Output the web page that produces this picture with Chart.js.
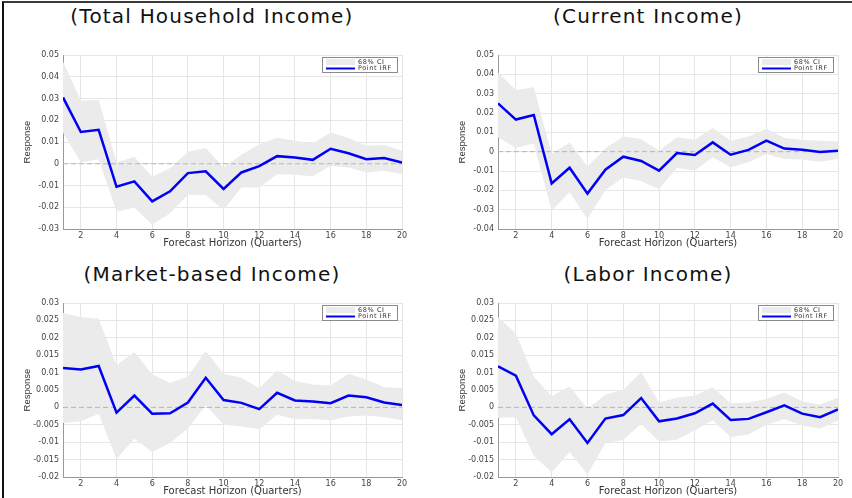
<!DOCTYPE html>
<html>
<head>
<meta charset="utf-8">
<script src="https://cdn.jsdelivr.net/npm/chart.js@4.4.0/dist/chart.umd.min.js"></script>
<style>
  body { margin: 0; background: #fff; width: 852px; height: 498px; overflow: hidden; position: relative; }
  #frame { position: absolute; left: 2px; top: 1px; width: 850px; height: 497px; box-sizing: border-box;
           border-top: 2px solid #3a3a3a; border-left: 2px solid #111; }
  .ttl { position: absolute; width: 400px; text-align: center; font: 20px 'DejaVu Sans'; letter-spacing: 1.2px;
         line-height: 20px; color: #111; white-space: nowrap; }
  canvas { position: absolute; }
</style>
</head>
<body>
<div id="frame"></div>
<div class="ttl" style="left:12px;top:6px">(Total Household Income)</div>
<div class="ttl" style="left:448px;top:6px">(Current Income)</div>
<div class="ttl" style="left:12px;top:264px">(Market-based Income)</div>
<div class="ttl" style="left:448px;top:264px">(Labor Income)</div>

<canvas id="total" width="410" height="205" style="left:5px;top:45px"></canvas>
<canvas id="current" width="410" height="205" style="left:440px;top:45px"></canvas>
<canvas id="market" width="410" height="205" style="left:5px;top:293px"></canvas>
<canvas id="labor" width="410" height="205" style="left:440px;top:293px"></canvas>

<script>
const horizons = [1, 2, 3, 4, 5, 6, 7, 8, 9, 10, 11, 12, 13, 14, 15, 16, 17, 18, 19, 20];
const xTicks = [2, 4, 6, 8, 10, 12, 14, 16, 18, 20];
const legendLabels = ['68% CI', 'Point IRF'];
const xTitle = 'Forecast Horizon (Quarters)';
const yTitle = 'Response';

// y ticks
const yTicksTotal = [-0.03, -0.02, -0.01, 0, 0.01, 0.02, 0.03, 0.04, 0.05];
const yTicksCurrent = [-0.04, -0.03, -0.02, -0.01, 0, 0.01, 0.02, 0.03, 0.04, 0.05];
const yTicksSmall = [-0.02, -0.015, -0.01, -0.005, 0, 0.005, 0.01, 0.015, 0.02, 0.025, 0.03];

// total household income
const totalIrf = [0.0305, 0.0146, 0.0156, -0.0106, -0.0081, -0.0173, -0.0127, -0.0043, -0.0035, -0.0116,
                  -0.0040, -0.0011, 0.0035, 0.0029, 0.0018, 0.0069, 0.0048, 0.0021, 0.0026, 0.0006];
const totalHi = [0.047, 0.029, 0.0294, 0.0006, 0.0032, -0.006, -0.0021, 0.0055, 0.0072, -0.0017,
                 0.0041, 0.009, 0.012, 0.0106, 0.0093, 0.0144, 0.0118, 0.0083, 0.0086, 0.006];
const totalLo = [0.0144, 0.0006, 0.0021, -0.0221, -0.0201, -0.028, -0.0228, -0.0143, -0.0144, -0.0213,
                 -0.0109, -0.0109, -0.0048, -0.0051, -0.0058, -0.0009, -0.0017, -0.004, -0.0032, -0.0048];

// current income
const currentIrf = [0.025, 0.0166, 0.019, -0.0164, -0.0083, -0.0217, -0.0093, -0.0026, -0.0048, -0.0098,
                    -0.0007, -0.0017, 0.0048, -0.0016, 0.0009, 0.0057, 0.0016, 0.001, -0.0002, 0.0005];
const currentHi = [0.041, 0.0319, 0.0333, -0.0012, 0.0047, -0.0078, 0.0017, 0.0078, 0.0066, 0.0005,
                   0.0074, 0.0062, 0.0122, 0.0057, 0.0078, 0.0119, 0.0071, 0.0062, 0.0057, 0.0053];
const currentLo = [0.0074, 0.0019, 0.0043, -0.0305, -0.021, -0.0348, -0.0198, -0.0133, -0.0153, -0.0193,
                   -0.0084, -0.0098, -0.0029, -0.0081, -0.0055, -0.0012, -0.0038, -0.0041, -0.0052, -0.0038];

// market-based income
const marketIrf = [0.0113, 0.0109, 0.0119, -0.0015, 0.0034, -0.0018, -0.0017, 0.0014, 0.0085, 0.0021,
                   0.0013, -0.0005, 0.0042, 0.002, 0.0017, 0.0012, 0.0034, 0.0029, 0.0014, 0.0007];
const marketHi = [0.0271, 0.026, 0.0255, 0.0121, 0.0159, 0.0095, 0.007, 0.0089, 0.0162, 0.0097,
                  0.0085, 0.0056, 0.0106, 0.0076, 0.0066, 0.0063, 0.0097, 0.008, 0.0058, 0.0056];
const marketLo = [-0.0045, -0.004, -0.0018, -0.0148, -0.009, -0.0128, -0.0102, -0.0061, 0.0006, -0.005,
                  -0.0055, -0.0063, -0.0021, -0.0034, -0.0033, -0.0037, -0.0026, -0.0023, -0.0028, -0.0037];

// labor income
const laborIrf = [0.0118, 0.0091, -0.0023, -0.0077, -0.0034, -0.0102, -0.0032, -0.0022, 0.0027, -0.004,
                  -0.0032, -0.0017, 0.0011, -0.0036, -0.0033, -0.0014, 0.0006, -0.0018, -0.0028, -0.0006];
const laborHi = [0.026, 0.0212, 0.0089, 0.0032, 0.006, -0.0004, 0.0036, 0.0051, 0.0102, 0.0014,
                 0.0028, 0.0034, 0.0058, 0.0012, 0.0014, 0.0024, 0.0043, 0.0017, 0.0008, 0.0028];
const laborLo = [-0.003, -0.0028, -0.014, -0.0186, -0.0128, -0.0193, -0.0102, -0.0093, -0.0047, -0.0098,
                 -0.0093, -0.0066, -0.0037, -0.0085, -0.0078, -0.005, -0.0033, -0.0052, -0.0061, -0.0037];

const CI_COLOR = '#ebebeb';
const IRF_COLOR = '#0000f5';
const GRID_COLOR = '#e6e6e6';

const pts = arr => horizons.map((h, i) => ({x: h, y: arr[i]}));

// small boxed legend in the top right corner of the plot area
const ciLegend = {
    id: 'ciLegend',
    afterDatasetsDraw(chart) {
        const {ctx, chartArea: a} = chart;
        const w = 76, h = 16;
        const x = a.right - 80, y = a.top + 2;
        ctx.save();
        ctx.fillStyle = '#fff';
        ctx.fillRect(x, y, w, h);
        ctx.strokeStyle = '#8a8a8a';
        ctx.lineWidth = 1;
        ctx.strokeRect(x + 0.5, y + 0.5, w - 1, h - 1);
        ctx.fillStyle = CI_COLOR;
        ctx.fillRect(x + 4, y + 2, 29, 6);
        ctx.strokeStyle = IRF_COLOR;
        ctx.lineWidth = 2;
        ctx.beginPath();
        ctx.moveTo(x + 4, y + 11.5);
        ctx.lineTo(x + 33, y + 11.5);
        ctx.stroke();
        ctx.fillStyle = '#333';
        ctx.font = '6.5px "DejaVu Sans"';
        ctx.letterSpacing = '0.6px';
        ctx.textBaseline = 'middle';
        ctx.fillText(legendLabels[0], x + 36, y + 5);
        ctx.fillText(legendLabels[1], x + 36, y + 11.5);
        ctx.restore();
    }
};

function makePanel(id, irf, lo, hi, yTicks, padRight) {
    const zero = horizons.map(h => ({x: h, y: 0}));
    new Chart(document.getElementById(id), {
        type: 'line',
        data: {
            datasets: [
                {data: pts(irf), borderColor: IRF_COLOR, borderWidth: 2.5, pointRadius: 0, fill: false, order: 0},
                {data: zero, borderColor: '#b4b4b4', borderWidth: 1, borderDash: [5, 3], pointRadius: 0, fill: false, order: 1},
                {data: pts(hi), borderWidth: 0, pointRadius: 0, backgroundColor: CI_COLOR, fill: '+1', order: 2},
                {data: pts(lo), borderWidth: 0, pointRadius: 0, fill: false, order: 3}
            ]
        },
        options: {
            responsive: false,
            animation: false,
            layout: {padding: {top: 10, right: padRight, bottom: 0, left: 0}},
            plugins: {legend: {display: false}, tooltip: {enabled: false}},
            scales: {
                x: {
                    type: 'linear', min: 1, max: 20,
                    afterBuildTicks: s => { s.ticks = xTicks.map(v => ({value: v})); },
                    afterFit: s => { s.height = 21; },
                    grid: {color: GRID_COLOR, tickLength: 0},
                    border: {color: '#999'},
                    ticks: {font: {family: 'DejaVu Sans', size: 8}, color: '#444', padding: 2, maxRotation: 0},
                    title: {display: true, text: xTitle, font: {family: 'DejaVu Sans', size: 10}, color: '#333',
                            padding: {top: 0, bottom: 1}}
                },
                y: {
                    min: yTicks[0], max: yTicks[yTicks.length - 1],
                    afterBuildTicks: s => { s.ticks = yTicks.map(v => ({value: v})); },
                    afterFit: s => { s.width = 58; },
                    grid: {color: GRID_COLOR, tickLength: 0},
                    border: {color: '#999'},
                    ticks: {font: {family: 'DejaVu Sans', size: 8}, color: '#444', padding: 4,
                            callback: v => String(v)},
                    title: {display: true, text: yTitle,
                            font: {family: "'Liberation Sans Narrow', 'Liberation Sans'", size: 9.5}, color: '#333',
                            padding: {top: 17, bottom: 0}}
                }
            }
        },
        plugins: [ciLegend]
    });
}

makePanel('total', totalIrf, totalLo, totalHi, yTicksTotal, 13);
makePanel('current', currentIrf, currentLo, currentHi, yTicksCurrent, 12);
makePanel('market', marketIrf, marketLo, marketHi, yTicksSmall, 13);
makePanel('labor', laborIrf, laborLo, laborHi, yTicksSmall, 12);
</script>
</body>
</html>
